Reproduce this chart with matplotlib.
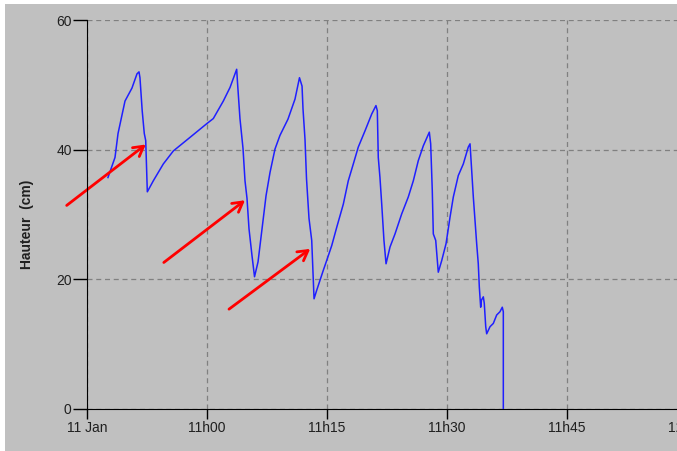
import matplotlib
matplotlib.use("Agg")
import matplotlib.pyplot as plt
from matplotlib.patches import Rectangle

# minutes after 10h45 and water height (cm)
minutes = [2.62, 3.5, 3.88, 4.75, 5.62, 6.25, 6.5, 6.62, 6.9, 7.16, 7.34, 7.54,
           8.29, 9.54, 10.79, 12.88, 14.96, 15.79, 17.04, 17.88, 18.71, 18.81,
           19.12, 19.5, 19.75, 20.0, 20.25, 20.62, 20.94, 21.38, 21.88, 22.38,
           22.88, 23.5, 24.12, 25.12, 26.0, 26.56, 26.88, 27.0, 27.25, 27.44,
           27.75, 28.09, 28.29, 28.38, 28.71, 29.54, 29.96, 30.59, 31.21, 32.04,
           32.66, 33.29, 33.91, 34.75, 35.59, 36.12, 36.29, 36.41, 36.62, 36.84,
           37.12, 37.38, 37.88, 38.5, 39.34, 40.16, 40.79, 41.41, 42.04, 42.79,
           42.96, 43.16, 43.29, 43.59, 43.91, 44.34, 44.88, 45.38, 45.79, 46.41,
           47.04, 47.66, 47.88, 47.96, 48.29, 48.5, 48.71, 48.91, 49.04, 49.21,
           49.31, 49.54, 49.66, 49.84, 49.96, 50.38, 50.79, 51.21, 51.62, 51.91,
           52.04, 52.04]
hauteur = [35.7, 38.8, 42.5, 47.5, 49.5, 51.7, 52.0, 51.1, 46.0, 42.5, 41.4, 33.5,
           35.2, 37.8, 39.8, 41.9, 44.0, 44.8, 47.5, 49.6, 52.4, 50.4,
           44.8, 40.2, 35.2, 32.5, 27.8, 23.7, 20.4, 22.7, 27.8, 32.9,
           36.5, 40.1, 42.2, 44.7, 47.8, 51.1, 49.8, 46.3, 41.6, 35.5,
           29.4, 26.0, 19.8, 17.0, 18.3, 21.4, 22.9, 25.2, 28.0, 31.6,
           35.2, 37.8, 40.4, 42.9, 45.5, 46.8, 46.0, 38.8, 35.7, 31.6,
           26.0, 22.4, 25.0, 27.0, 30.1, 32.7, 35.2, 38.3, 40.6, 42.7,
           40.9, 33.7, 27.0, 26.0, 21.1, 22.9, 25.5, 29.6, 32.7, 36.0,
           37.8, 40.4, 40.9, 39.3, 32.7, 29.1, 25.5, 22.4, 18.8, 15.7,
           16.8, 17.3, 16.3, 12.7, 11.6, 12.7, 13.2, 14.5, 15.0, 15.7,
           15.0, 0.0]

tick_pos = [0, 15, 30, 45, 60, 75]
tick_labels = ["11 Jan", "11h00", "11h15", "11h30", "11h45", "12h00"]
y_ticks = [0, 20, 40, 60]

# red arrows: (tail, head) in data units
arrows = [((-2.54, 31.4), (7.35, 40.8)),
          ((9.6, 22.6), (19.75, 32.2)),
          ((17.75, 15.4), (27.9, 24.7))]

plt.rcParams['font.family'] = ['Liberation Sans', 'DejaVu Sans']
bg = '#c0c0c0'

W, H = 677, 451
fig = plt.figure(figsize=(W / 100, H / 100), dpi=100, facecolor='white')
fig.patches.append(Rectangle((5 / W, 0), 1, 1 - 4 / H, transform=fig.transFigure,
                             facecolor=bg, edgecolor='none', zorder=-10))

ax = fig.add_axes([87 / W, (H - 409) / H, 600 / W, 389 / H])
ax.set_zorder(1)
ax.set_facecolor(bg)
ax.plot(minutes, hauteur, color='#1f1fff', lw=1.1, zorder=3)

for tail, head in arrows:
    ax.annotate("", xy=head, xytext=tail, annotation_clip=False,
                arrowprops=dict(arrowstyle="->,head_length=0.7,head_width=0.4",
                                color='#ff0000', lw=2.0, shrinkA=0, shrinkB=0),
                zorder=4)

ax.set_xlim(0, 75)
ax.set_ylim(0, 60)
ax.set_xticks(tick_pos)
ax.set_xticklabels(tick_labels)
ax.set_yticks(y_ticks)
ax.tick_params(axis='both', direction='out', width=1,
               labelsize=10, colors='black', labelcolor='#202020')
ax.tick_params(axis='y', length=10, pad=1)
ax.tick_params(axis='x', length=7, pad=2)

ax.grid(True, color='#808080', linestyle=(0, (4, 3)), lw=0.9)
ax.spines['top'].set_visible(False)
ax.spines['right'].set_visible(False)
ax.spines['left'].set_color('black')
ax.spines['bottom'].set_color('black')
ax.spines['left'].set_zorder(5)

fig.text(27 / W, 1 - 224 / H, "Hauteur  (cm)", rotation=90, fontsize=10,
         fontweight='bold', ha='center', va='center', color='#202020')

fig.savefig("out.png", dpi=100, facecolor=fig.get_facecolor())
